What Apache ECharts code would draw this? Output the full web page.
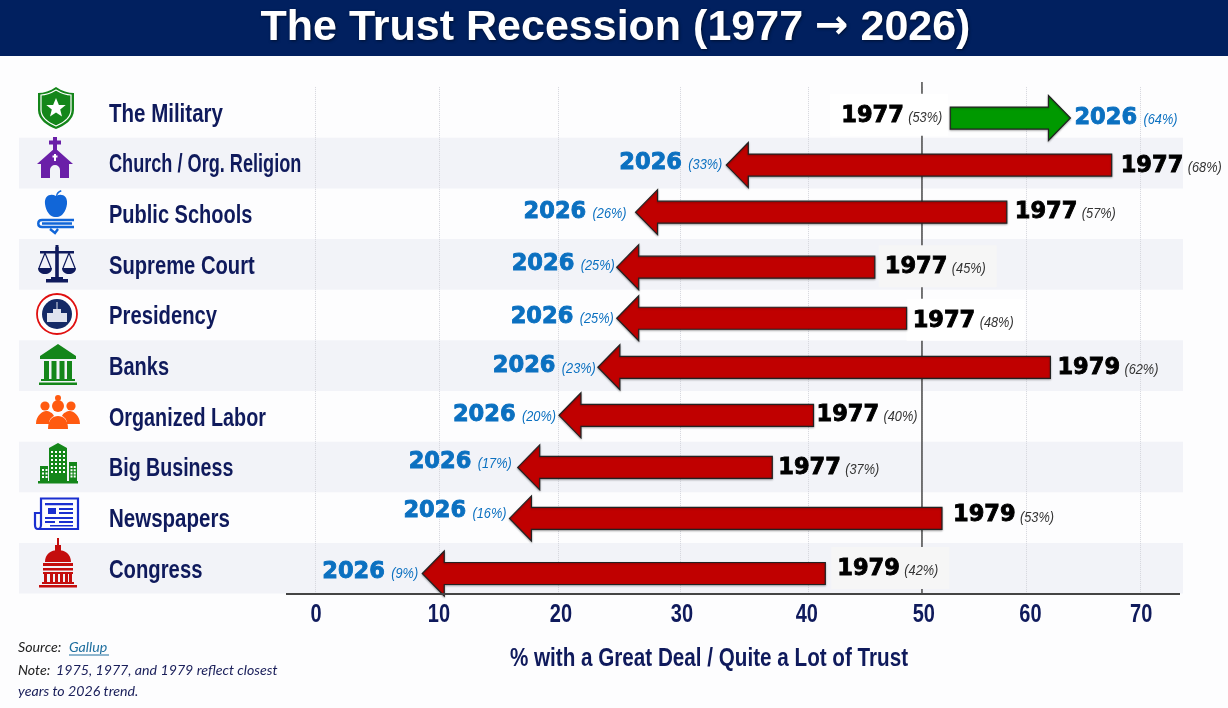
<!DOCTYPE html>
<html><head><meta charset="utf-8">
<style>html,body{margin:0;padding:0;background:#fdfdfe}#c{width:1228px;height:708px}</style>
<script src="https://cdn.jsdelivr.net/npm/echarts@6/dist/echarts.min.js"></script>
</head><body><div id="c"></div>
<script>
// ---- data ----
const categories = ['The Military','Church / Org. Religion','Public Schools','Supreme Court','Presidency','Banks','Organized Labor','Big Business','Newspapers','Congress'];
const startYears = ['1977','1977','1977','1977','1977','1979','1977','1977','1979','1979'];
const startPct = [53,68,57,45,48,62,40,37,53,42];
const endPct = [64,33,26,25,25,23,20,17,16,9];
// where each arrow's tail and tip sit when read against the drawn axis
const tailAt = [53.9,67.6,58.7,47.5,50.2,62.4,42.3,38.8,53.2,43.3];
const tipAt = [64.1,34.9,27.2,25.6,25.6,24.0,20.7,17.2,16.5,9.1];
// the source axis is not evenly spaced: gridlines and tick labels sit at these axis readings
const gridlineAt = [0,10.52,20.62,30.96,41.82,51.5,60.32,70];
const tickLabelAt = [0.08,10.52,20.87,31.13,41.73,51.66,60.7,70.1];
const tickLabels = ['0','10','20','30','40','50','60','70'];
const referenceAt = [51.5];

// ---- typesetting nudges (px) ----
const arrowDy = [5.6,2,-1.6,2.8,3.2,1.6,-1,0.4,0.8,5.2];
const startGap = [8,9,8,10,6,7,3,6,11,12];
const endGap = [4,4,9,2,3,2,3,6,3,4];
const startDy = [3.4,2.8,-1.8,2.8,5.8,2.4,-1.2,0.8,-2.2,0.8];
const endDy = [5.4,-0.2,-1.8,-0.2,1.8,0.8,-1.2,-4.8,-6.2,3.8];
const catScale = [.82,.725,.80,.807,.81,.80,.79,.785,.82,.81];
const patchColor = ['#fff',null,null,'#f6f6f6','#fff',null,null,null,null,'#f6f6f6'];

const SANS = '"Liberation Sans",Arial,sans-serif';
const NAVY = '#0f1a5c';
const xMin = -25.116, xMax = 73.65;

function labelEls(x,y,year,pct,color,align){
  // x is the outer edge nearest the arrow; align 'left' = text runs rightwards from x
  const pc=color==='#000'?'#333':color;
  const yw=color==='#000'?62:64, pw=String(pct).length>1?34:27, gap=5;
  const yx=align==='left'?x:x-pw-gap-yw, px=yx+yw+gap;
  const yearFont='bold 22.5px "DejaVu Sans",sans-serif';
  return [
    {type:'text',x:yx,y:y,z2:5,style:{text:year,align:'left',verticalAlign:'middle',font:yearFont,fill:color,stroke:color,lineWidth:0.9}},
    {type:'text',x:px,y:y+2,z2:5,scaleX:.85,style:{text:'('+pct+'%)',align:'left',verticalAlign:'middle',font:'italic 15px '+SANS,fill:pc}}
  ];
}
function renderArrow(params,api){
  const i=api.value(2), tail=api.coord([api.value(0),i]), tip=api.coord([api.value(1),i]);
  const cy=tail[1], y=cy+arrowDy[i], dir=tip[0]>tail[0]?1:-1, neck=tip[0]-dir*22;
  const pts=[[tail[0],y-11],[neck,y-11],[neck,y-22.5],[tip[0],y],[neck,y+22.5],[neck,y+11],[tail[0],y+11]];
  const kids=[];
  const sx=tail[0]-dir*startGap[i], ex=tip[0]+dir*endGap[i];
  if(patchColor[i]){
    const w=118;
    kids.push({type:'rect',shape:{x:dir>0?sx+6-w:sx-6,y:cy-21+startDy[i]-1,width:w,height:42},style:{fill:patchColor[i]}});
  }
  kids.push({type:'polygon',shape:{points:pts},z2:3,style:{fill:dir>0?'#009900':'#c00000',stroke:'#222',lineWidth:1.2,shadowBlur:2,shadowColor:'rgba(0,0,0,.3)',shadowOffsetY:1}});
  labelEls(sx,cy+startDy[i],startYears[i],startPct[i],'#000',dir>0?'right':'left').forEach(e=>kids.push(e));
  labelEls(ex,cy+endDy[i],'2026',endPct[i],'#0b70c0',dir>0?'left':'right').forEach(e=>kids.push(e));
  return {type:'group',children:kids};
}
function renderRef(params,api){
  const x=api.coord([api.value(0),0])[0], s=params.coordSys;
  return {type:'line',shape:{x1:x,y1:s.y-5,x2:x,y2:s.y+s.height},style:{stroke:'#555',lineWidth:1.6}};
}
function renderCat(params,api){
  const i=api.value(0), c=api.coord([xMin,i]);
  return {type:'text',x:109,y:c[1]+2.5,scaleX:catScale[i],style:{text:categories[i],align:'left',verticalAlign:'middle',font:'bold 25px '+SANS,fill:NAVY}};
}
function renderTick(params,api){
  const i=api.value(1), x=api.coord([api.value(0),0])[0], s=params.coordSys;
  return {type:'text',x:x,y:s.y+s.height+22,scaleX:.8,style:{text:tickLabels[i],align:'center',verticalAlign:'middle',font:'bold 25px '+SANS,fill:NAVY}};
}

// ---- icons (decorative pictograms, local coordinates) ----
function p(d,fill){return {type:'path',shape:{pathData:d},style:{fill:fill}};}
function s(d,stroke,w){return {type:'path',shape:{pathData:d},style:{fill:'none',stroke:stroke,lineWidth:w}};}
function box(x,y,w,h){return 'M'+x+' '+y+'h'+w+'v'+h+'h'+(-w)+'Z';}
function grid(x,y,nx,ny,step){let d='';for(let a=0;a<nx;a++)for(let b=0;b<ny;b++)d+=box(x+a*step,y+b*step,2,2);return d;}
const G='#14861a';
const icons=[
 {x:56,y:108,c:[
  p('M0-21C6-17 12-15 18-15L18 2C18 12 8 18 0 21C-8 18-18 12-18 2L-18-15C-12-15-6-17 0-21Z',G),
  s('M0-18C5-15 10-13 15-13L15 2C15 10 7 15 0 18C-7 15-15 10-15 2L-15-13C-10-13-5-15 0-18Z','#fff',1.2),
  p('M0-10L2.9-3.1L9.7-3.1L4.2 1.5L6 8.4L0 4.5L-6 8.4L-4.2 1.5L-9.7-3.1L-2.9-3.1Z','#fff')]},
 {x:55,y:158,c:[
  p(box(-2,-21,4,14)+box(-6,-17.5,12,4)+'M0-10L18 6L14 6L14 20L5 20L5 12A5 5 0 0 0 -5 12L-5 20L-14 20L-14 6L-18 6Z','#6a1fa8'),
  p(box(-1,-4,2,7)+box(-2.5,-2.5,5,2),'#fff')]},
 {x:56,y:209,c:[
  p('M0-13C5-16 12-14 11-5C10 3 5 9 0 8C-5 9-10 3-11-5C-12-14-5-16 0-13Z','#1166d8'),
  p('M0-13C0-16 2-18 5-19L5.5-17.5C3-17 2-15 1-13Z','#1166d8'),
  s('M18 11H-14C-19 11-19 18-14 18H18M-14 14.5H16M-6 20L-1 24L2 20','#1166d8',2.4)]},
 {x:57,y:263,c:[
  p(box(-1.8,-16,3.6,30)+box(-17,-12,34,2.6)+box(-6,14,12,2)+box(-11,16,22,3.5)+box(-1.5,-18,3,3),NAVY),
  s('M-12-10L-18 5M-12-10L-6 5M12-10L6 5M12-10L18 5',NAVY,1.2),
  p('M-19 5H-5C-5 13-19 13-19 5ZM5 5H19C19 13 5 13 5 5Z',NAVY)]},
 {x:57,y:314,c:[
  {type:'circle',shape:{cx:0,cy:0,r:20},style:{fill:'#fff',stroke:'#e01010',lineWidth:1.8}},
  {type:'circle',shape:{cx:0,cy:0,r:15},style:{fill:'#142a66'}},
  p(box(-10,-1,20,9)+box(-4,-5,8,5)+box(-0.5,-12,1,7),'#dfe3ee')]},
 {x:58,y:364,c:[
  p('M0-20L18-8V-5H-18V-8Z'+box(-14,-3,5,18)+box(-6.5,-3,5,18)+box(1.5,-3,5,18)+box(9,-3,5,18)+box(-17,15,34,2)+box(-19,18.5,38,2.5),G)]},
 {x:58,y:415,c:[
  p('M-22 9C-22 0-15-4-12-4C-9-4-5-2-4 1C-8 3-9 6-9 9Z','#ff5a10'),
  p('M22 9C22 0 15-4 12-4C9-4 5-2 4 1C8 3 9 6 9 9Z','#ff5a10'),
  p('M-10 14C-10 4-5 1 0 1C5 1 10 4 10 14Z','#ff5a10'),
  {type:'circle',shape:{cx:-13,cy:-9,r:4.6},style:{fill:'#ff5a10'}},
  {type:'circle',shape:{cx:13,cy:-9,r:4.6},style:{fill:'#ff5a10'}},
  {type:'circle',shape:{cx:0,cy:-9,r:6},style:{fill:'#ff5a10'}},
  {type:'circle',shape:{cx:0,cy:-17,r:3},style:{fill:'#ff5a10'}}]},
 {x:58,y:464,c:[
  p('M-9-16L0-21L9-16V17H-9Z'+box(-18,2,8,15)+box(11,-2,8,19)+box(-20,17,40,2.5),G),
  p(grid(-7,-13,4,6,4)+grid(-16,5,2,3,3.5)+grid(12.5,2,2,4,3.2),'#fff')]},
 {x:56,y:514,c:[
  s('M-15-15.5H22V15H-18C-21 15-21 13-21 11V-1H-15ZM-15-1V11C-15 14-17 15-18 15','#1a2fd0',2.2),
  p(box(-11,-11,28,2.2)+box(-8,-6,8,6)+box(3,-6,14,2)+box(3,-2,14,2)+box(-11,3,28,2)+box(-11,7,10,2)+box(3,7,14,2)+box(-6,11,23,1.6),'#1a2fd0')]},
 {x:58,y:563,c:[
  p(box(-1,-25,2,9)+box(-3,-18,6,6)+'M-13-1C-13-9-7-13 0-13C7-13 13-9 13-1Z'+box(-15,0,30,3)+box(-15,5,30,2.5)+box(-15,9,30,2)+box(-14,11,3,8)+box(-8,11,3,8)+box(-3,11,3,8)+box(2,11,3,8)+box(7,11,3,8)+box(11,11,3,8)+box(-16,19,32,2)+box(-19,22,38,2.5),'#c40d0d')]}
];
function renderIcon(params,api){
  const o=icons[api.value(0)];
  return {type:'group',x:o.x,y:o.y,children:o.c};
}

const chart=echarts.init(document.getElementById('c'),null,{renderer:'canvas'});
chart.setOption({
  backgroundColor:'#fdfdfe',
  animation:false,
  grid:{left:19,right:45,top:87.1,height:506.5,containLabel:false},
  xAxis:{
    type:'value',min:xMin,max:xMax,
    axisLine:{show:false},
    axisTick:{show:false,customValues:gridlineAt},
    splitLine:{show:true,lineStyle:{color:'#d4d5dc',type:'dotted',width:1}},
    axisLabel:{show:false}
  },
  yAxis:{
    type:'category',inverse:true,data:categories,
    axisLine:{show:false},axisTick:{show:false},splitLine:{show:false},
    splitArea:{show:true,areaStyle:{color:['rgba(0,0,0,0)','#f2f3f8']}},
    axisLabel:{show:false}
  },
  series:[
    {type:'custom',z:2,silent:true,clip:false,renderItem:renderRef,data:referenceAt.map(v=>[v]),encode:{x:0}},
    {type:'custom',z:3,silent:true,clip:false,renderItem:renderArrow,
      data:categories.map((c,i)=>[tailAt[i],tipAt[i],i]),encode:{x:[0,1],y:2}},
    {type:'custom',z:4,silent:true,clip:false,renderItem:renderCat,data:categories.map((c,i)=>[i]),encode:{y:0}},
    {type:'custom',z:4,silent:true,clip:false,renderItem:renderTick,data:tickLabelAt.map((v,i)=>[v,i]),encode:{x:0}},
    {type:'custom',z:4,silent:true,clip:false,renderItem:renderIcon,data:icons.map((o,i)=>[i]),encode:{y:0}}
  ],
  graphic:[
    {type:'rect',shape:{x:0,y:0,width:1228,height:56},style:{fill:'#01205f'},z:10},
    {type:'text',z:11,x:615.5,y:28,scaleX:1.0,style:{text:'The Trust Recession (1977 {a|\u2192} 2026)',align:'center',verticalAlign:'middle',
      font:'bold 43px '+SANS,fill:'#fff',rich:{a:{font:'bold 40px "DejaVu Sans"',fill:'#fff'}},textShadowColor:'rgba(0,0,0,.5)',textShadowBlur:3,textShadowOffsetX:1,textShadowOffsetY:1}},
    {type:'line',z:8,shape:{x1:286,y1:594,x2:1180,y2:594},style:{stroke:'#444',lineWidth:2}},
    {type:'text',z:8,x:709,y:659,scaleX:.826,style:{text:'% with a Great Deal / Quite a Lot of Trust',align:'center',verticalAlign:'middle',font:'bold 25px '+SANS,fill:NAVY}},
    {type:'text',z:8,x:18,y:647,style:{text:'Source: ',verticalAlign:'middle',font:'italic 14.2px Lato,sans-serif',fill:'#222'}},
    {type:'text',z:8,x:69,y:647,style:{text:'Gallup',verticalAlign:'middle',font:'italic 14.2px Lato,sans-serif',fill:'#1f6f9f'}},
    {type:'line',z:8,shape:{x1:69,y1:655,x2:109,y2:655},style:{stroke:'#1f6f9f',lineWidth:1}},
    {type:'text',z:8,x:18,y:670,style:{text:'Note: ',verticalAlign:'middle',font:'italic 14.2px Lato,sans-serif',fill:'#222'}},
    {type:'text',z:8,x:56,y:670,style:{text:'1975, 1977, and 1979 reflect closest',verticalAlign:'middle',font:'italic 14.2px Lato,sans-serif',fill:'#1a1f5a'}},
    {type:'text',z:8,x:18,y:691,style:{text:'years to 2026 trend.',verticalAlign:'middle',font:'italic 14.2px Lato,sans-serif',fill:'#1a1f5a'}}
  ]
});
</script></body></html>
